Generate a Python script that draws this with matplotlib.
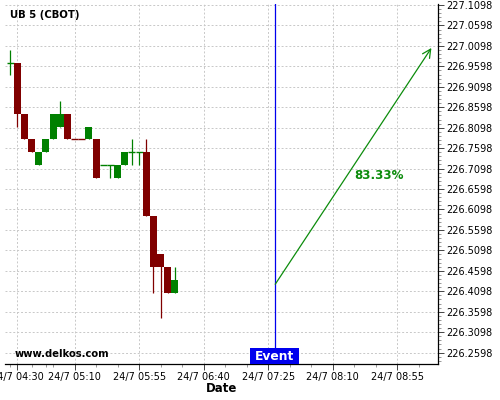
import matplotlib
matplotlib.use("Agg")
import matplotlib.pyplot as plt
from matplotlib.transforms import blended_transform_factory
from matplotlib.patches import Rectangle
from matplotlib.ticker import FixedLocator
import numpy as np

# ---- data ----
times = ["04:25", "04:30", "04:35", "04:40", "04:45", "04:50", "04:55", "05:00",
         "05:05", "05:10", "05:15", "05:20", "05:25", "05:30", "05:35", "05:40",
         "05:45", "05:50", "05:55", "06:00", "06:05", "06:10", "06:15", "06:20"]
opens  = [226.96875, 226.96875, 226.84375, 226.78125, 226.71875, 226.75, 226.78125, 226.8125,
          226.84375, 226.78125, 226.78125, 226.78125, 226.78125, 226.71875, 226.71875, 226.6875,
          226.71875, 226.75, 226.75, 226.75, 226.59375, 226.5, 226.46875, 226.40625]
highs  = [227.0, 226.96875, 226.84375, 226.78125, 226.75, 226.78125, 226.84375, 226.875,
          226.84375, 226.78125, 226.78125, 226.8125, 226.78125, 226.71875, 226.71875, 226.71875,
          226.75, 226.78125, 226.75, 226.78125, 226.59375, 226.5, 226.46875, 226.46875]
lows   = [226.9375, 226.8125, 226.78125, 226.75, 226.71875, 226.75, 226.78125, 226.8125,
          226.78125, 226.78125, 226.78125, 226.78125, 226.6875, 226.71875, 226.6875, 226.6875,
          226.71875, 226.71875, 226.71875, 226.59375, 226.40625, 226.34375, 226.40625, 226.40625]
closes = [226.96875, 226.84375, 226.78125, 226.75, 226.75, 226.78125, 226.84375, 226.84375,
          226.78125, 226.78125, 226.78125, 226.8125, 226.6875, 226.71875, 226.71875, 226.71875,
          226.75, 226.75, 226.75, 226.59375, 226.46875, 226.46875, 226.40625, 226.4375]
doji_up = [True, None, None, None, None, None, None, None,
           None, False, False, None, None, True, True, None,
           None, True, True, None, None, None, None, None]

xtick_labels = ["24/7 04:30", "24/7 05:10", "24/7 05:55", "24/7 06:40",
                "24/7 07:25", "24/7 08:10", "24/7 08:55"]
ytick_values = [226.2598 + 0.05 * i for i in range(18)]

event_time = "07:30"
arrow_end_time = "09:19"
arrow_start_price = 226.427
arrow_end_price = 227.0047
pct_label = "83.33%"
title = "UB 5 (CBOT)"
watermark = "www.delkos.com"

UP = "#008000"
DOWN = "#800000"
ARROW = "#0c8c0c"


def to_min(s):
    h, m = s.split(" ")[-1].split(":")
    return int(h) * 60 + int(m)


x = np.array([to_min(t) for t in times])

fig = plt.figure(figsize=(5, 4), dpi=100)
ax = fig.add_axes([5 / 500, 36 / 400, 433 / 500, 360 / 400])

ax.set_xlim(261.4, 563.6)
ax.set_ylim(226.232, 227.1122)

# candles
w = 4.9
for xi, o, h, l, c, du in zip(x, opens, highs, lows, closes, doji_up):
    if c > o:
        col = UP
    elif c < o:
        col = DOWN
    else:
        col = UP if du else DOWN
    ax.vlines(xi, l, h, color=col, lw=0.9, zorder=3)
    if c != o:
        ax.add_patch(Rectangle((xi - w / 2, min(o, c)), w, abs(c - o),
                               facecolor=col, edgecolor="none", zorder=4))
    else:
        ax.hlines(c, xi - w / 2, xi + w / 2, color=col, lw=1.0, zorder=4)

# event line
ev = to_min(event_time)
ax.axvline(ev, color="#0000ee", lw=0.9, zorder=5)
bt = blended_transform_factory(ax.transData, ax.transAxes)
ax.add_patch(Rectangle((ev - 17.6, 0), 34.4, 15.6 / 360, transform=bt,
                       facecolor="#0000ee", edgecolor="none", zorder=6, clip_on=False))
ax.text(ev - 0.4, 7.8 / 360, "Event", transform=bt, color="white", fontsize=8.8,
        fontweight="bold", ha="center", va="center", zorder=7)

# arrow
ax.annotate("", xy=(to_min(arrow_end_time), arrow_end_price),
            xytext=(ev, arrow_start_price),
            arrowprops=dict(arrowstyle="->,head_length=0.6,head_width=0.3",
                            color=ARROW, lw=0.9, shrinkA=0, shrinkB=0), zorder=6)
ax.text(522.4, 226.694, pct_label, color=ARROW, fontsize=8.6, fontweight="bold",
        ha="center", va="center", zorder=6)

# axes styling
for s in ["left", "top"]:
    ax.spines[s].set_visible(False)
for s in ["right", "bottom"]:
    ax.spines[s].set_color("black")
    ax.spines[s].set_linewidth(0.9)

major_x = [to_min(s) for s in xtick_labels]
ax.xaxis.set_major_locator(FixedLocator(major_x))
ax.set_xticklabels(xtick_labels, fontsize=7)
minor_x = [m for m in range(265, 565, 15) if m not in major_x] + [290]
ax.xaxis.set_minor_locator(FixedLocator(minor_x))

ax.yaxis.tick_right()
ax.yaxis.set_major_locator(FixedLocator(ytick_values))
ax.set_yticklabels(["%.4f" % v for v in ytick_values], fontsize=7)
ax.yaxis.set_minor_locator(FixedLocator([226.2398 + 0.01 * i for i in range(89)]))

ax.tick_params(axis="both", which="major", length=4, width=0.7, color="#444444", pad=2)
ax.tick_params(axis="both", which="minor", length=2, width=0.6, color="#888888")

ax.grid(True, which="major", color="#c8c8c8", linestyle=(0, (2, 2)), lw=0.7)
ax.set_axisbelow(True)

fig.text(10 / 500, 1 - 15.5 / 400, title, fontsize=7.3, fontweight="bold",
         ha="left", va="center")
fig.text(15 / 500, 1 - 354 / 400, watermark, fontsize=7.2, fontweight="bold",
         ha="left", va="center")
fig.text(222 / 500, 1 - 389 / 400, "Date", fontsize=8.5, fontweight="bold",
         ha="center", va="center")

fig.savefig("out.png", dpi=100)
